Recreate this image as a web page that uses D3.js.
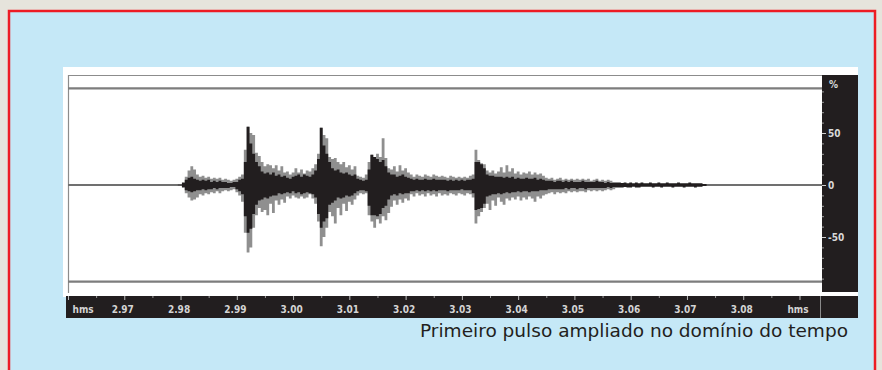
<!DOCTYPE html>
<html lang="pt">
<head>
<meta charset="utf-8">
<title>Primeiro pulso ampliado</title>
<script src="https://d3js.org/d3.v7.min.js"></script>
<style>
  body { margin: 0; background: #e6e4dc; }
  svg { display: block; }
</style>
</head>
<body>
<script>
// time axis (s) of the trace, one sample every 0.5 ms
var t0 = 2.9795, dt = 0.0005;

// x tick labels (bottom bar) and y ticks (right panel)
var xTicks = [2.96, 2.97, 2.98, 2.99, 3.00, 3.01, 3.02, 3.03, 3.04, 3.05, 3.06, 3.07, 3.08, 3.09];
var xLabels = ["hms", "2.97", "2.98", "2.99", "3.00", "3.01", "3.02", "3.03", "3.04", "3.05", "3.06", "3.07", "3.08", "hms"];
var yTicks = [50, 0, -50];
var yLabels = ["50", "0", "-50"];
var refLines = [93, -93];

// envelope, in % (gray = outer, black = inner)
var grayUp = [
  1, 1, 3, 8, 14, 18, 15, 10, 8, 9,
  7, 8, 6, 7, 6, 7, 5, 6, 5, 4,
  5, 6, 8, 10, 34, 56, 50, 48, 31, 28,
  22, 18, 20, 19, 16, 19, 14, 18, 12, 13,
  10, 12, 16, 12, 15, 11, 14, 13, 16, 20,
  30, 55, 48, 45, 27, 25, 26, 22, 20, 22,
  17, 19, 15, 18, 9, 8, 7, 10, 22, 29,
  26, 30, 27, 45, 26, 16, 15, 18, 13, 19,
  14, 16, 12, 10, 8, 10, 9, 8, 10, 9,
  8, 10, 9, 8, 9, 8, 7, 9, 8, 7,
  8, 7, 8, 7, 9, 10, 34, 24, 21, 20,
  14, 12, 14, 11, 13, 17, 12, 19, 13, 16,
  11, 13, 10, 12, 11, 13, 10, 12, 10, 11,
  9, 7, 6, 7, 5, 6, 7, 5, 6, 5,
  6, 5, 6, 5, 6, 5, 6, 4, 5, 6,
  4, 5, 4, 5, 4, 3, 3, 3, 2, 3,
  2, 3, 2, 3, 2, 3, 2, 2, 3, 2,
  2, 3, 2, 2, 3, 2, 2, 2, 3, 2,
  2, 2, 3, 2, 2, 2, 2, 1, 1
];
var grayDown = [
  -1, -1, -3, -8, -12, -15, -14, -12, -9, -10,
  -8, -9, -7, -8, -6, -8, -6, -5, -6, -5,
  -4, -7, -10, -16, -46, -65, -60, -41, -29, -22,
  -26, -24, -29, -18, -27, -15, -19, -14, -17, -11,
  -13, -10, -12, -13, -11, -13, -12, -9, -13, -18,
  -35, -59, -50, -41, -26, -30, -37, -22, -29, -18,
  -25, -16, -19, -14, -10, -8, -9, -8, -29, -35,
  -41, -33, -37, -30, -34, -27, -21, -15, -19, -14,
  -17, -13, -15, -9, -11, -8, -10, -9, -11, -8,
  -10, -9, -11, -8, -10, -9, -10, -8, -9, -10,
  -8, -9, -10, -8, -9, -12, -37, -30, -26, -22,
  -18, -24, -15, -20, -12, -16, -19, -13, -15, -12,
  -14, -11, -15, -12, -14, -11, -13, -16, -11, -13,
  -10, -9, -8, -7, -9, -7, -8, -7, -8, -6,
  -7, -6, -7, -6, -6, -7, -5, -6, -5, -6,
  -5, -6, -5, -4, -5, -4, -3, -3, -3, -2,
  -3, -3, -2, -3, -3, -2, -2, -2, -2, -3,
  -2, -2, -3, -2, -2, -2, -3, -2, -2, -2,
  -3, -2, -2, -2, -3, -2, -2, -1, -1
];
var blackUp = [
  0.5, 0.5, 2, 5, 7, 8, 6, 5, 4, 5,
  4, 5, 3, 4, 3, 4, 3, 3, 2, 2,
  3, 3, 5, 6, 22, 56, 40, 30, 22, 18,
  13, 11, 12, 10, 12, 9, 10, 8, 9, 7,
  6, 8, 9, 10, 8, 10, 9, 8, 10, 14,
  25, 55, 38, 30, 22, 16, 14, 15, 12, 11,
  12, 10, 9, 10, 6, 5, 4, 5, 15, 29,
  27, 25, 22, 24, 18, 12, 10, 10, 8, 9,
  10, 8, 7, 6, 5, 6, 5, 5, 6, 5,
  5, 6, 5, 5, 5, 5, 4, 5, 4, 5,
  4, 5, 4, 5, 5, 6, 22, 22, 20, 16,
  10, 9, 9, 8, 8, 8, 7, 8, 7, 8,
  6, 7, 6, 6, 7, 6, 6, 7, 5, 6,
  5, 4, 4, 4, 3, 4, 4, 3, 4, 3,
  4, 3, 3, 3, 4, 3, 3, 3, 3, 4,
  3, 3, 2, 3, 2, 2, 2, 2, 2, 2,
  1.5, 2, 1.5, 2, 1.5, 2, 1.5, 1.5, 2, 1.5,
  1.5, 2, 1.5, 1.5, 2, 1.5, 1.5, 1.5, 2, 1.5,
  1.5, 1.5, 2, 1.5, 1.5, 1.5, 1.5, 1, 1
];
var blackDown = [
  -0.5, -0.5, -2, -5, -6, -7, -6, -5, -5, -4,
  -5, -4, -4, -3, -4, -3, -3, -3, -3, -2,
  -2, -4, -6, -9, -30, -46, -42, -28, -19, -15,
  -14, -12, -13, -11, -10, -10, -8, -9, -8, -7,
  -8, -6, -8, -7, -9, -8, -7, -8, -9, -12,
  -28, -41, -35, -32, -19, -17, -15, -12, -13, -12,
  -10, -11, -10, -8, -6, -5, -5, -6, -20, -29,
  -29, -30, -28, -22, -20, -14, -10, -9, -10, -8,
  -9, -8, -8, -6, -6, -5, -6, -5, -6, -5,
  -6, -5, -6, -5, -5, -5, -6, -5, -5, -5,
  -5, -4, -5, -5, -5, -8, -24, -23, -22, -18,
  -11, -10, -9, -9, -8, -9, -8, -7, -8, -7,
  -7, -6, -7, -6, -6, -7, -6, -6, -6, -5,
  -5, -5, -4, -4, -4, -4, -4, -4, -3, -4,
  -3, -3, -4, -3, -3, -4, -3, -3, -3, -3,
  -3, -3, -3, -2, -3, -2, -2, -2, -2, -2,
  -2, -2, -1.5, -2, -2, -1.5, -1.5, -1.5, -1.5, -2,
  -1.5, -1.5, -2, -1.5, -1.5, -1.5, -2, -1.5, -1.5, -1.5,
  -2, -1.5, -1.5, -1.5, -2, -1.5, -1.5, -1, -1
];

var caption = "Primeiro pulso ampliado no domínio do tempo";

var w = 882, h = 370;
var axisFont = "'Liberation Sans Narrow', 'DejaVu Sans Condensed', sans-serif";

var svg = d3.select("body").append("svg")
  .attr("width", w)
  .attr("height", h);

// page background + red framed blue box
svg.append("rect").attr("width", w).attr("height", h).attr("fill", "#e6e4dc");
svg.append("rect")
  .attr("x", 9).attr("y", 11)
  .attr("width", 866).attr("height", 380)
  .attr("fill", "#c5e8f7")
  .attr("stroke", "#ed1c24")
  .attr("stroke-width", 2.5);

// white chart card
svg.append("rect")
  .attr("x", 63).attr("y", 67)
  .attr("width", 795).attr("height", 230)
  .attr("fill", "#ffffff");

// scales
var x = d3.scaleLinear().domain([2.96, 3.094]).range([68, 822]);
var y = d3.scaleLinear().domain([-100, 100]).range([289, 81]);

// plot frame (top + left thin gray)
svg.append("path")
  .attr("d", "M822,75.5H68.5V293")
  .attr("fill", "none")
  .attr("stroke", "#8c8c8c")
  .attr("stroke-width", 1.2);

// reference lines at +/-93 % and zero line
svg.selectAll("line.ref")
  .data(refLines)
  .enter().append("line")
  .attr("class", "ref")
  .attr("x1", x(2.96)).attr("x2", x(3.094))
  .attr("y1", function(d) { return y(d); })
  .attr("y2", function(d) { return y(d); })
  .attr("stroke", "#7d7d7d")
  .attr("stroke-width", 2.2);

svg.append("line")
  .attr("x1", x(2.96)).attr("x2", x(3.094))
  .attr("y1", y(0)).attr("y2", y(0))
  .attr("stroke", "#707070")
  .attr("stroke-width", 2);

// trace as stepped envelopes
var samples = grayUp.map(function(d, i) {
  return { t: t0 + i * dt, gu: d, gd: grayDown[i], bu: blackUp[i], bd: blackDown[i] };
});

var grayArea = d3.area()
  .curve(d3.curveStep)
  .x(function(d) { return x(d.t); })
  .y0(function(d) { return y(d.gd); })
  .y1(function(d) { return y(d.gu); });

var blackArea = d3.area()
  .curve(d3.curveStep)
  .x(function(d) { return x(d.t); })
  .y0(function(d) { return y(d.bd); })
  .y1(function(d) { return y(d.bu); });

svg.append("path")
  .datum(samples)
  .attr("d", grayArea)
  .attr("fill", "#8f8f8f");

svg.append("path")
  .datum(samples)
  .attr("d", blackArea)
  .attr("fill", "#221e1f");

// right black panel with % axis
svg.append("rect")
  .attr("x", 822).attr("y", 75)
  .attr("width", 36).attr("height", 217)
  .attr("fill", "#221e1f");

var yAxis = d3.axisRight(y)
  .tickValues(d3.range(-90, 100, 10))
  .tickSize(2)
  .tickFormat("");
svg.append("g")
  .attr("transform", "translate(822,0)")
  .call(yAxis)
  .call(function(g) {
    g.select(".domain").remove();
    g.selectAll(".tick line").attr("stroke", "#9a9a9a");
  });

var yAxisMajor = d3.axisRight(y)
  .tickValues(yTicks)
  .tickSize(4)
  .tickPadding(2)
  .tickFormat(function(d, i) { return yLabels[i]; });
svg.append("g")
  .attr("transform", "translate(822,0)")
  .call(yAxisMajor)
  .call(function(g) {
    g.select(".domain").remove();
    g.selectAll(".tick line").attr("stroke", "#cfcfcf");
    g.selectAll(".tick text")
      .attr("fill", "#d9d9d9")
      .attr("font-family", axisFont)
      .attr("font-weight", "bold")
      .attr("font-size", "10px");
  });

svg.append("text")
  .attr("x", 829).attr("y", 88)
  .attr("fill", "#d9d9d9")
  .attr("font-family", axisFont)
  .attr("font-weight", "bold")
  .attr("font-size", "10px")
  .text("%");

// bottom time bar
svg.append("rect")
  .attr("x", 66).attr("y", 296)
  .attr("width", 792).attr("height", 22)
  .attr("fill", "#221e1f");
svg.append("line")
  .attr("x1", 820.5).attr("x2", 820.5)
  .attr("y1", 296).attr("y2", 318)
  .attr("stroke", "#8a8a8a")
  .attr("stroke-width", 1);

var xMinor = d3.axisBottom(x)
  .tickValues(xTicks.slice(0, -1).map(function(d) { return d + 0.005; }))
  .tickSize(2)
  .tickFormat("");
svg.append("g")
  .attr("transform", "translate(0,296)")
  .call(xMinor)
  .call(function(g) {
    g.select(".domain").remove();
    g.selectAll(".tick line").attr("stroke", "#9a9a9a");
  });

var xAxis = d3.axisBottom(x)
  .tickValues(xTicks)
  .tickSize(4)
  .tickPadding(6)
  .tickFormat(function(d, i) { return xLabels[i]; });
svg.append("g")
  .attr("transform", "translate(0,296)")
  .call(xAxis)
  .call(function(g) {
    g.select(".domain").remove();
    g.selectAll(".tick line").attr("stroke", "#bdbdbd");
    g.selectAll(".tick text")
      .attr("dx", -2)
      .attr("fill", "#d4d4d4")
      .attr("font-family", axisFont)
      .attr("font-weight", "bold")
      .attr("font-size", "10px");
    // first "hms" sits inside the bar, left aligned
    g.select(".tick text")
      .attr("text-anchor", "start")
      .attr("dx", 4);
  });

// caption
svg.append("text")
  .attr("x", 848).attr("y", 337)
  .attr("text-anchor", "end")
  .attr("fill", "#231f20")
  .attr("font-family", "'DejaVu Sans', Verdana, sans-serif")
  .attr("font-size", "17.5px")
  .attr("textLength", 428)
  .attr("lengthAdjust", "spacingAndGlyphs")
  .text(caption);
</script>
</body>
</html>
